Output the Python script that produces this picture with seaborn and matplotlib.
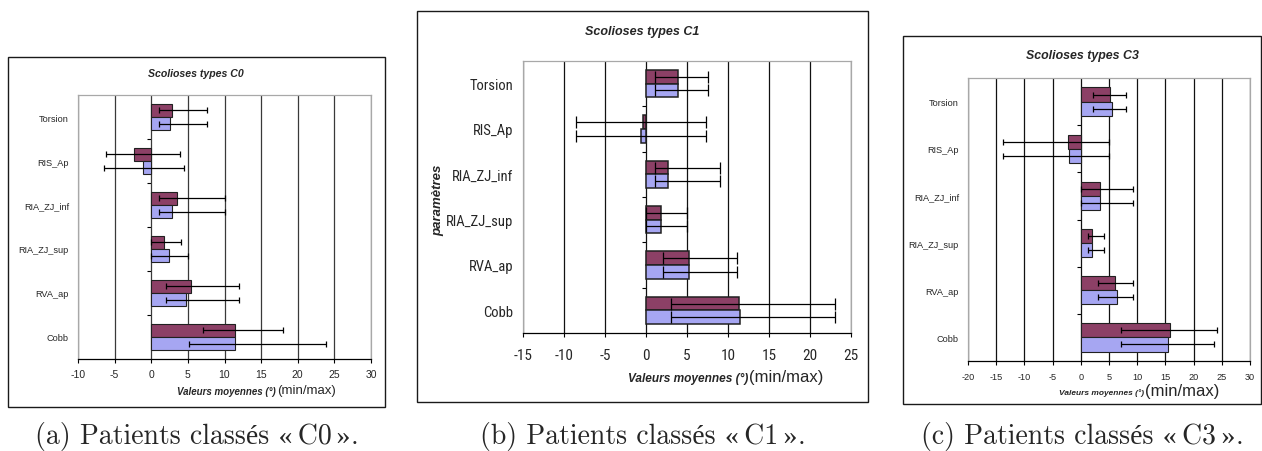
import numpy as np
import pandas as pd
import matplotlib
matplotlib.use('Agg')
import matplotlib.pyplot as plt
import seaborn as sns
from matplotlib import font_manager
from matplotlib.patches import Rectangle
from matplotlib.container import BarContainer
from matplotlib.offsetbox import TextArea, HPacker, AnnotationBbox

# data
categories = ['Torsion', 'RIS_Ap', 'RIA_ZJ_inf', 'RIA_ZJ_sup', 'RVA_ap', 'Cobb']
series = ['série 1', 'série 2']

# C0
c0_mean1 = [2.8, -2.3, 3.5, 1.8, 5.4, 11.4]
c0_min1 = [1.1, -6.2, 1.1, 0.0, 2.0, 7.0]
c0_max1 = [7.6, 3.9, 10.0, 4.0, 12.0, 18.0]
c0_mean2 = [2.6, -1.1, 2.8, 2.4, 4.7, 11.5]
c0_min2 = [1.1, -6.5, 1.1, 0.0, 2.0, 5.1]
c0_max2 = [7.6, 4.5, 10.0, 5.0, 12.0, 23.9]

# C1
c1_mean1 = [3.9, -0.4, 2.7, 1.8, 5.25, 11.3]
c1_min1 = [1.05, -8.5, 1.05, 0.0, 2.05, 3.0]
c1_max1 = [7.5, 7.35, 9.05, 5.0, 11.05, 23.0]
c1_mean2 = [3.9, -0.65, 2.7, 1.8, 5.25, 11.5]
c1_min2 = [1.05, -8.5, 1.05, 0.0, 2.05, 3.0]
c1_max2 = [7.5, 7.35, 9.05, 5.0, 11.05, 23.0]

# C3
c3_mean1 = [5.1, -2.3, 3.35, 1.9, 6.15, 15.9]
c3_min1 = [2.2, -13.8, 0.0, 1.2, 3.1, 7.2]
c3_max1 = [8.0, 5.0, 9.2, 4.1, 9.2, 24.2]
c3_mean2 = [5.55, -2.1, 3.35, 1.9, 6.5, 15.4]
c3_min2 = [2.2, -13.8, 0.0, 1.2, 3.1, 7.2]
c3_max2 = [8.0, 5.0, 9.2, 4.1, 9.2, 23.6]

titles = ['Scolioses types C0', 'Scolioses types C1', 'Scolioses types C3']
caption_heads = ['(a) Patients classés «\u2009C0',
                 '(b) Patients classés «\u2009C1',
                 '(c) Patients classés «\u2009C3']
xlims = [(-10, 30), (-15, 25), (-20, 30)]

sns.set_style('white')
plt.rcParams['font.family'] = ['Liberation Sans', 'DejaVu Sans']
plt.rcParams['axes.unicode_minus'] = False

# the middle panel uses a condensed face if one is installed
names = {f.name for f in font_manager.fontManager.ttflist}
narrow, narrow_stretch = None, 'normal'
for c in ['Liberation Sans Narrow', 'Roboto Condensed', 'DejaVu Sans Condensed',
          'Open Sans Condensed', 'Noto Sans Condensed']:
    if c in names:
        narrow = c
        break
if narrow is None:
    for f in font_manager.fontManager.ttflist:
        if str(f.stretch) in ('condensed', 'semi-condensed') and 'Serif' not in f.name \
                and 'Mono' not in f.name and f.style == 'normal':
            narrow, narrow_stretch = f.name, str(f.stretch)
            break
if narrow is None:
    narrow, b_ysize, b_xsize = 'Liberation Sans', 8.6, 9.5
else:
    b_ysize, b_xsize = 10.5, 11

W, H = 1262, 452
fig = plt.figure(figsize=(W / 100, H / 100), dpi=100)


def fx(px):
    return px / W


def fy(py):
    return 1 - py / H


# pixel layout of each panel: plot area, chart box, text sizes
panels = [
    dict(data=(c0_mean1, c0_min1, c0_max1, c0_mean2, c0_min2, c0_max2),
         plot=(78, 96, 371, 360), box=(8, 58, 385, 408),
         yfont='Liberation Sans', stretch='normal', ysize=6.6, xsize=7.5,
         ypad=6.5, xpad=4.5, tsize=7.6, tpos=(196, 74), lsize=7, msize=9.5,
         lpos=(276, 392), cap=2.5, grid='#3a3a3a', elw=0.8),
    dict(data=(c1_mean1, c1_min1, c1_max1, c1_mean2, c1_min2, c1_max2),
         plot=(523, 62, 851, 334), box=(417, 12, 868, 403),
         yfont=narrow, stretch=narrow_stretch, ysize=b_ysize, xsize=b_xsize,
         ypad=7, xpad=8, tsize=9, tpos=(642, 32), lsize=8.6, msize=12,
         lpos=(748, 379), cap=4, grid='#111111', elw=1.1),
    dict(data=(c3_mean1, c3_min1, c3_max1, c3_mean2, c3_min2, c3_max2),
         plot=(968, 79, 1250, 362), box=(903, 37, 1261, 405),
         yfont='Liberation Sans', stretch='normal', ysize=6.6, xsize=6.6,
         ypad=6.5, xpad=5, tsize=8.9, tpos=(1082, 56), lsize=6, msize=12,
         lpos=(1144, 393), cap=2.5, grid='#111111', elw=0.8),
]

colors = ['#993366', '#9999FF']

for k, p in enumerate(panels):
    m1, lo1, hi1, m2, lo2, hi2 = p['data']
    df = pd.DataFrame({
        'param': categories * 2,
        'serie': [series[0]] * 6 + [series[1]] * 6,
        'valeur': list(m1) + list(m2),
    })
    x0, y0, x1, y1 = p['plot']
    ax = fig.add_axes([fx(x0), fy(y1), fx(x1 - x0), (y1 - y0) / H])
    sns.barplot(data=df, x='valeur', y='param', hue='serie', orient='h',
                order=categories, hue_order=series, palette=colors,
                width=0.6, errorbar=None, edgecolor='#202020',
                linewidth=p['elw'], legend=False, ax=ax)

    # min/max error bars at the bar centres
    lows = [lo1, lo2]
    highs = [hi1, hi2]
    means = [m1, m2]
    bar_conts = [c for c in ax.containers if isinstance(c, BarContainer)]
    for i, cont in enumerate(bar_conts):
        ys = [b.get_y() + b.get_height() / 2 for b in cont.patches]
        mu = np.array(means[i])
        err = [mu - np.array(lows[i]), np.array(highs[i]) - mu]
        ax.errorbar(mu, ys, xerr=err, fmt='none', ecolor='black',
                    elinewidth=0.9, capsize=p['cap'], capthick=0.9, zorder=4)

    xmin, xmax = xlims[k]
    ax.set_xlim(xmin, xmax)
    ax.set_xticks(np.arange(xmin, xmax + 1, 5))
    ax.set_ylim(5.5, -0.5)
    ax.set_axisbelow(True)
    ax.grid(axis='x', color=p['grid'], linewidth=0.9)
    ax.grid(axis='y', visible=False)
    ax.set_xlabel('')
    ax.set_ylabel('')

    for s in ['left', 'top', 'right']:
        ax.spines[s].set_color('#a8a8a8')
        ax.spines[s].set_linewidth(0.9)
    ax.spines['bottom'].set_color('black')
    ax.spines['bottom'].set_linewidth(0.9)

    ax.tick_params(axis='y', length=0, pad=p['ypad'])
    ax.tick_params(axis='x', direction='out', length=3, width=0.8,
                   color='black', pad=p['xpad'], bottom=True)
    for lab in ax.get_yticklabels():
        lab.set_fontfamily(p['yfont'])
        lab.set_fontstretch(p['stretch'])
        lab.set_fontsize(p['ysize'])
    for lab in ax.get_xticklabels():
        lab.set_fontfamily(p['yfont'])
        lab.set_fontstretch(p['stretch'])
        lab.set_fontsize(p['xsize'])

    # category axis crosses at zero: small ticks between categories
    sec = ax.secondary_yaxis((0 - xmin) / (xmax - xmin))
    sec.set_yticks(np.arange(0.5, 5, 1.0))
    sec.yaxis.set_ticks_position('left')
    sec.tick_params(length=3, width=0.8, color='black',
                    labelleft=False, labelright=False)
    for s in sec.spines.values():
        s.set_visible(False)

    # chart area frame
    bx0, by0, bx1, by1 = p['box']
    fig.add_artist(Rectangle((fx(bx0), fy(by1)), fx(bx1 - bx0), (by1 - by0) / H,
                             transform=fig.transFigure, fill=False,
                             edgecolor='#1a1a1a', linewidth=1.0))

    tx, ty = p['tpos']
    fig.text(fx(tx), fy(ty), titles[k], ha='center', va='center',
             fontsize=p['tsize'], fontweight='bold', fontstyle='italic')

    lx, ly = p['lpos']
    fig.text(fx(lx), fy(ly), 'Valeurs moyennes (°)', ha='right', va='center',
             fontsize=p['lsize'], fontweight='bold', fontstyle='italic')
    fig.text(fx(lx + 1), fy(ly - 1), '(min/max)', ha='left', va='center',
             fontsize=p['msize'])

    # caption in a Computer Modern look; cmr10 has no proper closing guillemet
    cm = ['cmr10', 'Liberation Serif', 'DejaVu Serif']
    parts = [TextArea(caption_heads[k], textprops=dict(family=cm, size=20)),
             TextArea('\u2009»', textprops=dict(family=['Liberation Serif'], size=20)),
             TextArea('.', textprops=dict(family=cm, size=20))]
    pack = HPacker(children=parts, pad=0, sep=0, align='baseline')
    ab = AnnotationBbox(pack, (fx((bx0 + bx1) / 2), fy(437)),
                        xycoords='figure fraction', frameon=False,
                        box_alignment=(0.5, 0.5))
    fig.add_artist(ab)

fig.text(fx(438), fy(200), 'paramètres', rotation=90, ha='center', va='center',
         fontsize=9.5, fontweight='bold', fontstyle='italic')

fig.savefig('out.png', dpi=100)
